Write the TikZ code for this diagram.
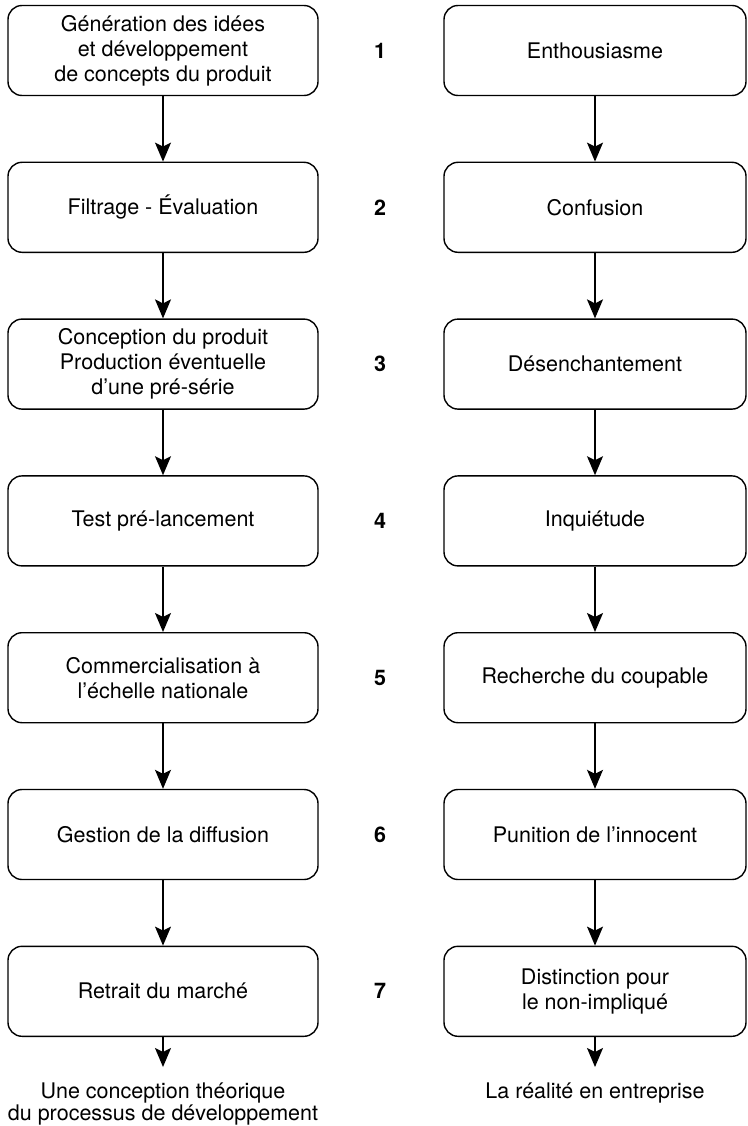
\documentclass[tikz,border=0pt]{standalone}
\usepackage{fontspec}
\setmainfont{TeX Gyre Heros}
\usetikzlibrary{arrows.meta}
\begin{document}
\begin{tikzpicture}[x=1pt,y=-1pt,
  box/.style={draw, line width=1.4pt, rounded corners=14pt, minimum height=90pt, align=center, inner sep=0pt, font=\fontsize{21.5}{25}\selectfont},
  lbox/.style={box, minimum width=310pt},
  rbox/.style={box, minimum width=302pt},
  num/.style={font=\fontsize{21.5}{25}\selectfont\bfseries},
  lbl/.style={align=center, inner sep=0pt, font=\fontsize{21.5}{22.5}\selectfont},
  arr/.style={-{Stealth[length=19pt,width=16pt,inset=4pt]}, line width=1.4pt}]
\useasboundingbox (0,0) rectangle (747,1126);
\foreach \t [count=\i] in {
  {Génération des idées\\et développement\\de concepts du produit},
  {Filtrage - Évaluation},
  {Conception du produit\\Production éventuelle\\d’une pré-série},
  {Test pré-lancement},
  {Commercialisation à\\l’échelle nationale},
  {Gestion de la diffusion},
  {Retrait du marché}}{
  \node[lbox] (L\i) at (163, {50.5+156.8*(\i-1)}) {\t};
}
\foreach \t [count=\i] in {
  {Enthousiasme},
  {Confusion},
  {Désenchantement},
  {Inquiétude},
  {Recherche du coupable},
  {Punition de l’innocent},
  {Distinction pour\\le non-impliqué}}{
  \node[rbox] (R\i) at (595, {50.5+156.8*(\i-1)}) {\t};
  \node[num] (N\i) at (380, {50.5+156.8*(\i-1)}) {\i};
}
\foreach \i [evaluate=\i as \j using int(\i+1)] in {1,...,6}{
  \draw[arr] (L\i.south) -- (L\j.north);
  \draw[arr] (R\i.south) -- (R\j.north);
}
\coordinate (LE) at (163,1067);
\coordinate (RE) at (595,1067);
\draw[arr] (L7.south) -- (LE);
\draw[arr] (R7.south) -- (RE);
\node[lbl, anchor=base] (LT) at (163,1120.5) {Une conception théorique\\du processus de développement};
\node[lbl, anchor=base] (RT) at (595,1098) {La réalité en entreprise};
\end{tikzpicture}
\end{document}
